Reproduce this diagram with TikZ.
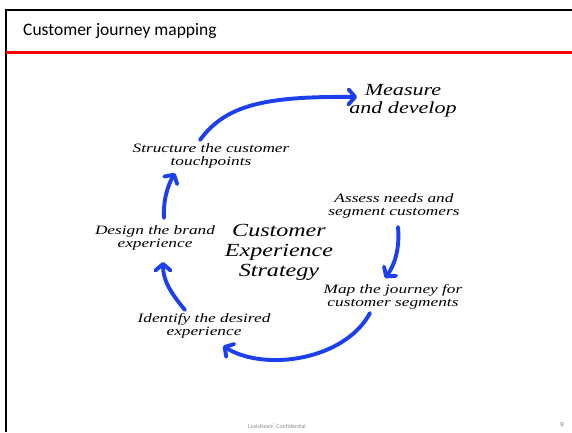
\documentclass[tikz,border=0pt]{standalone}
\usepackage{fontspec}
\setmainfont{Carlito}
\newfontfamily\hand[FakeStretch=1.35]{Liberation Serif Italic}
\newfontfamily\handwide[FakeStretch=1.3]{Liberation Serif Italic}
\usetikzlibrary{arrows.meta}
\definecolor{cjblue}{RGB}{28,64,240}
\definecolor{cjred}{RGB}{255,0,0}
\definecolor{footgray}{RGB}{140,140,140}
\begin{document}
\begin{tikzpicture}[x=1pt,y=-1pt,
  step label/.style={align=center,inner sep=0pt,font=\hand\fontsize{12.8}{13.5}\selectfont},
  big label/.style={align=center,inner sep=0pt,font=\handwide\fontsize{17}{18}\selectfont},
  core label/.style={align=center,inner sep=0pt,font=\handwide\fontsize{18.5}{20}\selectfont},
  flow/.style={line width=3.9pt,draw=cjblue,line cap=round,
    -{Straight Barb[length=6.5pt,width=15pt,round]}}]
  \useasboundingbox (0,0) rectangle (572,432);
  \fill[white] (0,0) rectangle (572,432);
  % slide frame and title bar
  \draw[line width=2pt,black] (6,432) -- (6,10) -- (572,10);
  \draw[line width=3pt,cjred] (6,52) -- (572,52);
  \node[anchor=west,inner sep=0pt,font=\fontsize{17.5}{20}\selectfont] (title) at (23,31) {Customer journey mapping};
  % cycle steps
  \node[big label] (measure) at (403,101) {Measure\\and develop};
  \node[step label] (structure) at (211,156) {Structure the customer\\touchpoints};
  \node[step label] (assess) at (394,206) {Assess needs and\\segment customers};
  \node[step label] (design) at (155,238) {Design the brand\\experience};
  \node[core label] (core) at (279,252) {Customer\\Experience\\Strategy};
  \node[step label] (map) at (393,297) {Map the journey for\\customer segments};
  \node[step label] (identify) at (204,326) {Identify the desired\\experience};
  % arrow end points
  \coordinate (a1) at (164,218); \coordinate (b1) at (175,173);
  \coordinate (a2) at (200,140); \coordinate (b2) at (357,97);
  \coordinate (a3) at (398,227); \coordinate (b3) at (385,278);
  \coordinate (a4) at (370,313); \coordinate (b4) at (223,346);
  \coordinate (a5) at (185,310); \coordinate (b5) at (163,262);
  % connecting arrows
  \draw[flow] (a1) .. controls (163,200) and (168,185) .. (b1);
  \draw[flow] (a2) .. controls (225,106) and (262,96) .. (b2);
  \draw[flow] (a3) .. controls (400,250) and (394,266) .. (b3);
  \draw[flow] (a4) .. controls (345,360) and (265,372) .. (b4);
  \draw[flow] (a5) .. controls (170,292) and (163,280) .. (b5);
  % footer
  \node[font=\fontsize{6}{7}\selectfont,text=footgray,inner sep=0pt] (foot) at (277,426) {LexisNexis\raisebox{0.6ex}{\fontsize{4}{4}\selectfont®} Confidential};
  \node[font=\fontsize{8}{9}\selectfont,text=footgray,inner sep=0pt] (page) at (562,425) {9};
\end{tikzpicture}
\end{document}
